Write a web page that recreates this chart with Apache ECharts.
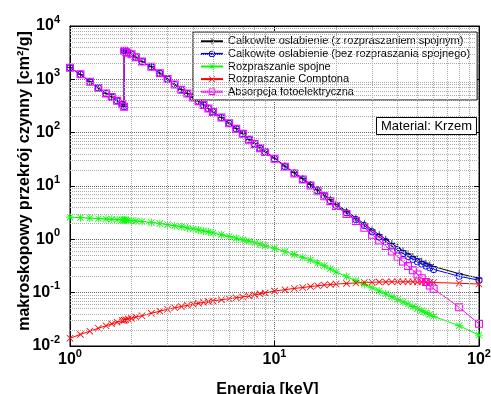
<!DOCTYPE html>
<html>
<head>
<meta charset="utf-8">
<script src="https://cdn.jsdelivr.net/npm/echarts@6/dist/echarts.min.js"></script>
<style>
  html, body { margin: 0; padding: 0; background: #fff; }
  #main { width: 491px; height: 394px; }
</style>
</head>
<body>
<div id="main"></div>
<script>
// energie [keV]
var energy = [1, 1.125, 1.25, 1.375, 1.5, 1.6, 1.7, 1.8, 1.839,
  1.839, 1.875, 1.925, 2, 2.1, 2.25, 2.5, 2.75, 3,
  3.25, 3.5, 3.75, 4, 4.25, 4.5, 4.75, 5,
  5.5, 6, 6.5, 7, 7.5, 8, 8.5, 9, 10,
  11.25, 12.5, 13.75, 15, 16.25, 17.5, 18.75, 20,
  22.5, 25, 27.5, 30, 32.5, 35, 37.5, 40,
  42.5, 45, 47.5, 50, 52.5, 55, 57.5, 60,
  80, 100];

// calkowite oslabienie (z rozpraszaniem spojnym)
var totalCoh = [1653, 1243, 902.5, 692.5, 547.4, 467.4, 397.4, 342.3, 309.3,
  3442, 3302, 3152, 2952, 2602, 2152, 1722, 1302, 1012,
  801.9, 641.8, 541.7, 456.6, 391.6, 331.5, 286.4, 246.4,
  193.3, 151.2, 119.1, 96.1, 75.0, 62.0, 51.9, 44.4, 33.3,
  23.7, 17.8, 13.8, 10.7, 8.50, 6.86, 5.62, 4.59,
  3.35, 2.52, 1.95, 1.50, 1.22, 1.00, 0.834, 0.705,
  0.612, 0.536, 0.477, 0.429, 0.39, 0.357, 0.331, 0.309,
  0.227, 0.187];

// calkowite oslabienie (bez rozpraszania spojnego)
var totalNoCoh = [1650, 1240, 900, 690, 545, 465, 395, 340, 307,
  3440, 3300, 3150, 2950, 2600, 2150, 1720, 1300, 1010,
  800.1, 640.1, 540.1, 455.1, 390.1, 330.1, 285.1, 245.1,
  192.1, 150.1, 118.1, 95.1, 74.1, 61.1, 51.1, 43.6, 32.6,
  23.1, 17.3, 13.3, 10.3, 8.14, 6.54, 5.34, 4.35,
  3.15, 2.35, 1.81, 1.38, 1.11, 0.909, 0.75, 0.63,
  0.545, 0.475, 0.422, 0.379, 0.344, 0.315, 0.292, 0.273,
  0.203, 0.171];

// rozpraszanie spojne
var coherent = [2.6, 2.55, 2.5, 2.45, 2.41, 2.38, 2.34, 2.31, 2.3,
  2.3, 2.29, 2.27, 2.24, 2.21, 2.16, 2.07, 1.98, 1.88,
  1.8, 1.72, 1.64, 1.57, 1.5, 1.44, 1.38, 1.32,
  1.22, 1.13, 1.05, 0.98, 0.92, 0.86, 0.81, 0.76, 0.68,
  0.59, 0.52, 0.46, 0.41, 0.36, 0.32, 0.28, 0.245,
  0.2, 0.167, 0.143, 0.124, 0.108, 0.095, 0.084, 0.075,
  0.067, 0.061, 0.055, 0.05, 0.046, 0.042, 0.039, 0.036,
  0.024, 0.016];

// rozpraszanie Comptona
var compton = [0.014, 0.0165, 0.019, 0.0215, 0.024, 0.026, 0.028, 0.030, 0.0305,
  0.0305, 0.031, 0.032, 0.033, 0.035, 0.037, 0.041, 0.045, 0.049,
  0.052, 0.055, 0.058, 0.061, 0.063, 0.066, 0.068, 0.07,
  0.074, 0.077, 0.08, 0.083, 0.087, 0.091, 0.095, 0.099, 0.107,
  0.114, 0.12, 0.125, 0.13, 0.135, 0.139, 0.142, 0.145,
  0.149, 0.152, 0.155, 0.157, 0.158, 0.159, 0.16, 0.16,
  0.16, 0.16, 0.16, 0.159, 0.158, 0.157, 0.156, 0.155,
  0.15, 0.145];

// absorpcja fotoelektryczna
var photo = [1650, 1240, 900, 690, 545, 465, 395, 340, 307,
  3440, 3300, 3150, 2950, 2600, 2150, 1720, 1300, 1010,
  800, 640, 540, 455, 390, 330, 285, 245,
  192, 150, 118, 95, 74, 61, 51, 43.5, 32.5,
  23, 17.2, 13.2, 10.2, 8.0, 6.4, 5.2, 4.2,
  3.0, 2.2, 1.65, 1.22, 0.95, 0.75, 0.59, 0.47,
  0.385, 0.315, 0.262, 0.22, 0.186, 0.158, 0.136, 0.118,
  0.053, 0.026];

var seriesNames = [
  'Calkowite oslabienie (z rozpraszaniem spojnym)',
  'Calkowite oslabienie (bez rozpraszania spojnego)',
  'Rozpraszanie spojne',
  'Rozpraszanie Comptona',
  'Absorpcja fotoelektryczna'
];

// pomocnicze linie siatki (podzialki drobne)
var minorX = [2, 3, 4, 5, 6, 7, 8, 9, 20, 30, 40, 50, 60, 70, 80, 90];
var minorY = [0.02, 0.03, 0.04, 0.05, 0.06, 0.07, 0.08, 0.09,
  0.2, 0.3, 0.4, 0.5, 0.6, 0.7, 0.8, 0.9,
  2, 3, 4, 5, 6, 7, 8, 9,
  20, 30, 40, 50, 60, 70, 80, 90,
  200, 300, 400, 500, 600, 700, 800, 900,
  2000, 3000, 4000, 5000, 6000, 7000, 8000, 9000];

function pairs(xs, ys) {
  var out = [];
  for (var i = 0; i < xs.length; i++) out.push([xs[i], ys[i]]);
  return out;
}

function powLabel(v) {
  var e = Math.round(Math.log(v) / Math.LN10);
  return '{b|10}{e|' + e + '}';
}

var richPow = {
  b: { fontSize: 16, fontWeight: 'bold', color: '#000', lineHeight: 24, verticalAlign: 'middle', fontFamily: 'Liberation Sans' },
  e: { fontSize: 11, fontWeight: 'bold', color: '#000', lineHeight: 11, verticalAlign: 'top', fontFamily: 'Liberation Sans' }
};

// symbole w stylu Matlaba
var symPlus = 'path://M0,4.45H10V5.55H0Z M4.45,0H5.55V10H4.45Z';
var symX = 'path://M0.8,0L10,9.2L9.2,10L0,0.8Z M9.2,0L10,0.8L0.8,10L0,9.2Z';
var symStar = 'path://M0,4.5H10V5.5H0Z M4.5,0H5.5V10H4.5Z M1.4,0.7L9.3,8.6L8.6,9.3L0.7,1.4Z M8.6,0.7L9.3,1.4L1.4,9.3L0.7,8.6Z';
var symSquare = 'path://M0,0H10V10H0Z M1.3,1.3V8.7H8.7V1.3Z';
var symCircle = 'path://M5,0A5,5 0 1,1 5,10A5,5 0 1,1 5,0Z M5,1.3A3.7,3.7 0 1,0 5,8.7A3.7,3.7 0 1,0 5,1.3Z';

var minorLines = [];
minorX.forEach(function (v) { minorLines.push({ xAxis: v }); });
minorY.forEach(function (v) { minorLines.push({ yAxis: v }); });

function lineSeries(name, ys, color, symbol, size, extra) {
  var s = {
    name: name,
    type: 'line',
    data: pairs(energy, ys),
    symbol: symbol,
    symbolSize: size,
    showAllSymbol: true,
    lineStyle: { color: color, width: 1 },
    itemStyle: { color: color, borderWidth: 0 },
    emphasis: { disabled: true },
    animation: false
  };
  if (extra) for (var k in extra) s[k] = extra[k];
  return s;
}

var logAxisBase = {
  type: 'log',
  logBase: 10,
  axisLine: { lineStyle: { color: '#000', width: 1 } },
  axisTick: { inside: true, length: 5, lineStyle: { color: '#000' } }
};

var myChart = echarts.init(document.getElementById('main'), null, { renderer: 'canvas' });

var option = {
  backgroundColor: '#fff',
  animation: false,
  textStyle: { fontFamily: 'Liberation Sans' },
  grid: {
    left: 70, right: 12, top: 26, bottom: 48,
    containLabel: false,
    outerBoundsMode: 'none',
    show: true, borderColor: '#000', borderWidth: 1, backgroundColor: '#fff'
  },
  title: {
    text: 'Material: Krzem',
    right: 14, top: 117,
    padding: [2, 5, 1, 5],
    backgroundColor: '#fff',
    borderColor: '#000', borderWidth: 1,
    textStyle: { fontSize: 13, fontWeight: 'normal', color: '#000', lineHeight: 15, fontFamily: 'Liberation Sans' }
  },
  legend: {
    data: seriesNames,
    orient: 'vertical',
    left: 193, top: 32,
    padding: [3, 7, 2, 7],
    itemGap: 0,
    itemWidth: 22,
    itemHeight: 8,
    backgroundColor: '#fff',
    borderColor: '#000', borderWidth: 1,
    textStyle: { fontSize: 11, color: '#000', lineHeight: 12.6, fontFamily: 'Liberation Sans' },
    selectedMode: false
  },
  xAxis: [
    Object.assign({}, logAxisBase, {
      min: 1, max: 100, splitNumber: 2,
      name: 'Energia [keV]', nameLocation: 'middle', nameGap: 36, nameMoveOverlap: false,
      nameTextStyle: { fontSize: 16, fontWeight: 'bold', color: '#000', fontFamily: 'Liberation Sans', padding: [0, 14, 0, 0] },
      axisLabel: { margin: 2, formatter: powLabel, rich: richPow },
      splitLine: { show: true, lineStyle: { color: '#666', type: 'dotted', width: 1 } }
    }),
    Object.assign({}, logAxisBase, {
      min: 1, max: 100, splitNumber: 2, position: 'top',
      axisLabel: { show: false }, splitLine: { show: false }
    })
  ],
  yAxis: [
    Object.assign({}, logAxisBase, {
      min: 0.01, max: 10000, splitNumber: 6,
      name: 'makroskopowy przekrój czynny [cm\u00b2/g]', nameLocation: 'middle', nameGap: 37, nameMoveOverlap: false,
      nameTextStyle: { fontSize: 16, fontWeight: 'bold', color: '#000', fontFamily: 'Liberation Sans', padding: [0, 0, 0, 10] },
      axisLabel: { margin: 10, formatter: powLabel, rich: richPow },
      splitLine: { show: true, lineStyle: { color: '#666', type: 'dotted', width: 1 } }
    }),
    Object.assign({}, logAxisBase, {
      min: 0.01, max: 10000, splitNumber: 6, position: 'right',
      axisLabel: { show: false }, splitLine: { show: false }
    })
  ],
  series: [
    lineSeries(seriesNames[0], totalCoh, '#000000', symPlus, 7, {
      markLine: {
        silent: true,
        symbol: ['none', 'none'],
        label: { show: false },
        lineStyle: { color: '#aaa', type: 'dotted', width: 1 },
        emphasis: { disabled: true },
        animation: false,
        data: minorLines
      }
    }),
    lineSeries(seriesNames[1], totalNoCoh, '#0000ff', symCircle, 7),
    lineSeries(seriesNames[2], coherent, '#00ff00', symStar, 8),
    lineSeries(seriesNames[3], compton, '#ff0000', symX, 7),
    lineSeries(seriesNames[4], photo, '#ff00ff', symSquare, 8)
  ]
};

myChart.setOption(option);
</script>
</body>
</html>
